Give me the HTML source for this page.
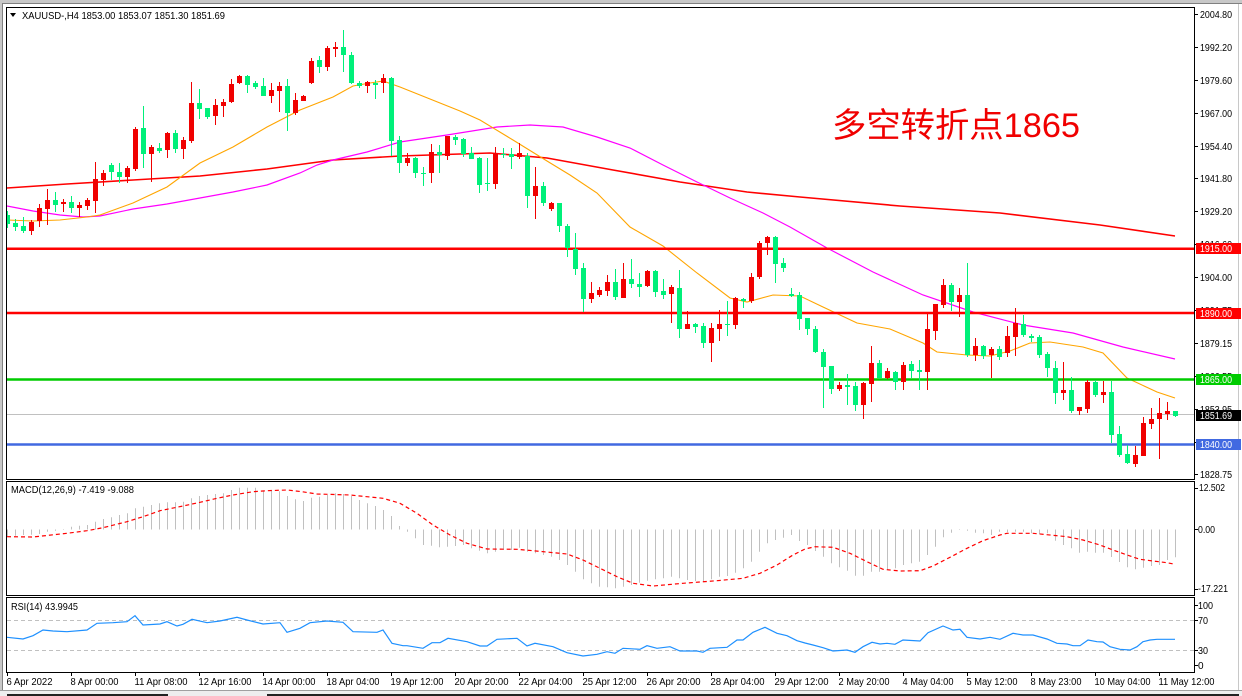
<!DOCTYPE html>
<html><head><meta charset="utf-8"><style>
html,body{margin:0;padding:0;background:#fff;}
svg{display:block;}
text{font-family:"Liberation Sans","Noto Sans CJK SC",sans-serif;}
</style></head><body>
<svg width="1242" height="696" viewBox="0 0 1242 696" xmlns="http://www.w3.org/2000/svg">
<defs><clipPath id="cm"><rect x="7" y="8" width="1187" height="471"/></clipPath>
<clipPath id="cmacd"><rect x="7" y="482" width="1187" height="113"/></clipPath>
<clipPath id="crsi"><rect x="7" y="598" width="1187" height="74"/></clipPath></defs>
<rect width="1242" height="696" fill="#fff"/>
<!-- window chrome -->
<rect x="0" y="0" width="1242" height="3" fill="#c8c8c8"/>
<line x1="2" y1="3.5" x2="1242" y2="3.5" stroke="#808080"/>
<rect x="0" y="0" width="2" height="696" fill="#c8c8c8"/>
<line x1="2.5" y1="3" x2="2.5" y2="692" stroke="#808080"/>
<line x1="1238.5" y1="4" x2="1238.5" y2="691" stroke="#c8c8c8"/>
<rect x="0" y="690" width="1242" height="6" fill="#eeeeee"/>
<line x1="0" y1="690.5" x2="1242" y2="690.5" stroke="#a0a0a0"/>
<rect x="7" y="694" width="161" height="2" fill="#222"/>
<rect x="267" y="694" width="972" height="2" fill="#222"/>

<!-- frames -->
<rect x="6.5" y="7.5" width="1188" height="472" fill="none" stroke="#000"/>
<rect x="6.5" y="481.5" width="1188" height="114" fill="none" stroke="#000"/>
<rect x="6.5" y="597.5" width="1188" height="75" fill="none" stroke="#000"/>

<!-- price axis ticks & labels -->
<g stroke="#000">
<path d="M1195 14.5h3M1195 47.5h3M1195 80.5h3M1195 113.5h3M1195 146.5h3M1195 178.5h3M1195 211.5h3M1195 244.5h3M1195 277.5h3M1195 310.5h3M1195 343.5h3M1195 376.5h3M1195 409.5h3M1195 442.5h3M1195 474.5h3"/>
<path d="M1195 488.5h3M1195 529.5h3M1195 589.5h3M1195 605.5h3M1195 620.5h3M1195 650.5h3M1195 665.5h3"/>
</g>
<g font-size="10" fill="#000">
<text x="1200" y="18" textLength="32" lengthAdjust="spacingAndGlyphs">2004.80</text>
<text x="1200" y="51" textLength="32" lengthAdjust="spacingAndGlyphs">1992.20</text>
<text x="1200" y="84" textLength="32" lengthAdjust="spacingAndGlyphs">1979.60</text>
<text x="1200" y="117" textLength="32" lengthAdjust="spacingAndGlyphs">1967.00</text>
<text x="1200" y="150" textLength="32" lengthAdjust="spacingAndGlyphs">1954.40</text>
<text x="1200" y="182" textLength="32" lengthAdjust="spacingAndGlyphs">1941.80</text>
<text x="1200" y="215" textLength="32" lengthAdjust="spacingAndGlyphs">1929.20</text>
<text x="1200" y="248" textLength="32" lengthAdjust="spacingAndGlyphs">1916.60</text>
<text x="1200" y="281" textLength="32" lengthAdjust="spacingAndGlyphs">1904.00</text>
<text x="1200" y="314" textLength="32" lengthAdjust="spacingAndGlyphs">1891.75</text>
<text x="1200" y="347" textLength="32" lengthAdjust="spacingAndGlyphs">1879.15</text>
<text x="1200" y="380" textLength="32" lengthAdjust="spacingAndGlyphs">1866.55</text>
<text x="1200" y="413" textLength="32" lengthAdjust="spacingAndGlyphs">1853.95</text>
<text x="1200" y="446" textLength="32" lengthAdjust="spacingAndGlyphs">1841.35</text>
<text x="1200" y="478" textLength="32" lengthAdjust="spacingAndGlyphs">1828.75</text>
<text x="1199" y="491" textLength="26" lengthAdjust="spacingAndGlyphs">12.502</text>
<text x="1198" y="533" textLength="17" lengthAdjust="spacingAndGlyphs">0.00</text>
<text x="1198" y="592" textLength="30" lengthAdjust="spacingAndGlyphs">-17.221</text>
<text x="1198" y="609" textLength="15" lengthAdjust="spacingAndGlyphs">100</text>
<text x="1198" y="624" textLength="10" lengthAdjust="spacingAndGlyphs">70</text>
<text x="1198" y="654" textLength="10" lengthAdjust="spacingAndGlyphs">30</text>
<text x="1198" y="669">0</text>
</g>

<!-- header / labels -->
<polygon points="10,13 16,13 13,17" fill="#000"/>
<text x="22" y="19" font-size="10.5" textLength="203" lengthAdjust="spacingAndGlyphs">XAUUSD-,H4  1853.00 1853.07 1851.30 1851.69</text>
<text x="11" y="493" font-size="10.5" textLength="123" lengthAdjust="spacingAndGlyphs">MACD(12,26,9) -7.419 -9.088</text>
<text x="11" y="610" font-size="10.5" textLength="67" lengthAdjust="spacingAndGlyphs">RSI(14) 43.9945</text>

<g clip-path="url(#cm)">
<!-- moving averages -->
<polyline fill="none" stroke="#ff0000" stroke-width="1.6" points="7,188 67,184 133,180 200,176 267,169 333,160 400,156 490,153 547,158 613,170 680,182 747,192 800,197 900,206 1000,213 1100,225 1175,236"/>
<polyline fill="none" stroke="#ff00ff" stroke-width="1.2" points="7,206 33,211 60,215 83,217 100,216 133,209 167,204 200,198 233,192 267,185 300,173 317,165 333,160 367,152 400,142 447,135 497,127 530,125 563,127 597,137 630,148 663,165 697,182 730,198 763,213 790,227 827,248 873,272 923,295 973,312 1023,325 1073,333 1123,347 1175,359"/>
<polyline fill="none" stroke="#ffa500" stroke-width="1.1" points="7,220 33,221 60,220 87,217 100,215 133,203 167,187 200,163 233,147 267,127 300,110 333,97 353,86 370,83 383,81 400,87 420,95 440,103 460,111 480,120 513,140 547,161 570,175 597,193 630,227 663,246 697,273 730,298 747,302 773,295 800,296 823,307 857,323 890,329 923,343 937,352 967,355 990,356 1010,351 1030,343 1050,342 1083,347 1103,353 1127,378 1157,392 1175,398"/>

<!-- horizontal levels -->
<line x1="7" y1="248.7" x2="1194" y2="248.7" stroke="#ff0000" stroke-width="2.5"/>
<line x1="7" y1="313" x2="1194" y2="313" stroke="#ff0000" stroke-width="2.5"/>
<line x1="7" y1="379.5" x2="1194" y2="379.5" stroke="#00cc00" stroke-width="2.5"/>
<line x1="7" y1="444.5" x2="1194" y2="444.5" stroke="#4169e1" stroke-width="2.5"/>
<line x1="7" y1="414.5" x2="1194" y2="414.5" stroke="#c0c0c0" stroke-width="1"/>

<!-- candle wicks -->
<path fill="none" stroke="#f00000" stroke-width="1" d="M31.5 220V235M39.5 204V227M47.5 189V225M63.5 199V212M79.5 202V217M87.5 198V210M95.5 162V213M103.5 170V186M127.5 166V183M135.5 127V171M151.5 145V182M167.5 132V158M183.5 137V159M191.5 82V143M215.5 99V125M223.5 99V117M231.5 79V103M239.5 75V84M271.5 83V103M279.5 82V112M295.5 93V115M303.5 95V101M311.5 58V84M327.5 46V71M335.5 42V57M367.5 81V93M383.5 74V93M407.5 153V166M431.5 144V183M447.5 136V160M495.5 147V189M519.5 143V159M535.5 167V219M551.5 202V211M591.5 282V303M599.5 287V297M607.5 275V296M623.5 263V298M647.5 270V287M671.5 285V323M687.5 311V329M711.5 323V362M719.5 310V341M735.5 297V329M751.5 273V303M759.5 241V279M767.5 236V255M839.5 382V391M863.5 382V419M871.5 346V402M887.5 368V379M903.5 362V390M927.5 314V390M935.5 304V340M943.5 279V308M959.5 288V317M975.5 338V361M991.5 347V378M1007.5 326V357M1015.5 308V356M1063.5 362V400M1079.5 407V415M1087.5 380V413M1103.5 381V403M1135.5 446V467M1143.5 417V456M1151.5 408V429M1159.5 398V459M1167.5 402V420"/>
<path fill="none" stroke="#00f07a" stroke-width="1" d="M7.5 211V228M15.5 219V231M23.5 217V233M55.5 192V212M71.5 196V213M111.5 163V180M119.5 163V183M143.5 106V168M159.5 143V153M175.5 130V153M199.5 89V119M207.5 108V119M247.5 75V93M255.5 81V89M263.5 78V96M287.5 79V131M319.5 56V73M343.5 30V72M351.5 52V84M359.5 81V88M375.5 80V99M391.5 77V156M399.5 136V173M415.5 157V178M423.5 167V186M439.5 145V173M455.5 135V145M463.5 138V157M471.5 147V159M479.5 157V193M487.5 158V191M503.5 148V158M511.5 148V169M527.5 153V208M543.5 182V206M559.5 203V232M567.5 224V257M575.5 233V275M583.5 263V312M615.5 269V300M631.5 259V288M639.5 273V297M655.5 270V297M663.5 279V299M679.5 270V338M695.5 323V333M703.5 323V348M727.5 301V336M743.5 298V308M775.5 236V283M783.5 258V272M791.5 288V297M799.5 292V330M807.5 318V335M815.5 326V353M823.5 349V408M831.5 366V394M847.5 374V405M855.5 382V411M879.5 360V379M895.5 371V390M911.5 361V378M919.5 360V390M951.5 283V311M967.5 263V357M983.5 345V359M999.5 346V360M1023.5 315V337M1031.5 334V342M1039.5 335V358M1047.5 352V377M1055.5 361V404M1071.5 377V413M1095.5 380V397M1111.5 381V443M1119.5 426V457M1127.5 445V464M1175.5 411V417"/>
<!-- candle bodies -->
<path fill="#f00000" d="M29 222h5v9h-5zM37 208h5v13h-5zM45 200h5v9h-5zM61 202h5v2h-5zM77 205h5v3h-5zM85 200h5v6h-5zM93 179h5v22h-5zM101 173h5v7h-5zM125 168h5v9h-5zM133 129h5v40h-5zM149 147h5v7h-5zM165 133h5v17h-5zM181 140h5v9h-5zM189 103h5v38h-5zM213 105h5v11h-5zM221 102h5v4h-5zM229 84h5v18h-5zM237 76h5v7h-5zM269 90h5v6h-5zM277 86h5v5h-5zM293 100h5v13h-5zM301 96h5v5h-5zM309 61h5v22h-5zM325 48h5v19h-5zM333 47h5v2h-5zM365 82h5v4h-5zM381 78h5v5h-5zM405 158h5v5h-5zM429 152h5v21h-5zM445 136h5v20h-5zM493 154h5v30h-5zM517 153h5v4h-5zM533 186h5v10h-5zM549 203h5v6h-5zM589 293h5v6h-5zM597 290h5v5h-5zM605 282h5v9h-5zM621 279h5v19h-5zM645 271h5v15h-5zM669 287h5v7h-5zM685 324h5v5h-5zM709 328h5v15h-5zM717 324h5v5h-5zM733 298h5v27h-5zM749 277h5v24h-5zM757 243h5v34h-5zM765 237h5v6h-5zM837 385h5v4h-5zM861 383h5v22h-5zM869 363h5v21h-5zM885 371h5v7h-5zM901 365h5v17h-5zM925 329h5v43h-5zM933 304h5v27h-5zM941 285h5v20h-5zM957 295h5v7h-5zM973 346h5v9h-5zM989 349h5v6h-5zM1005 336h5v17h-5zM1013 323h5v14h-5zM1061 390h5v3h-5zM1077 407h5v4h-5zM1085 382h5v27h-5zM1101 392h5v3h-5zM1133 455h5v9h-5zM1141 423h5v33h-5zM1149 419h5v5h-5zM1157 413h5v6h-5zM1165 411h5v3h-5z"/>
<path fill="#00f07a" d="M5 215h5v9h-5zM13 223h5v4h-5zM21 226h5v5h-5zM53 200h5v5h-5zM69 202h5v6h-5zM109 165h5v7h-5zM117 172h5v5h-5zM141 128h5v26h-5zM157 148h5v3h-5zM173 133h5v16h-5zM197 103h5v6h-5zM205 108h5v9h-5zM245 76h5v9h-5zM253 83h5v4h-5zM261 86h5v10h-5zM285 86h5v27h-5zM317 60h5v7h-5zM341 47h5v8h-5zM349 55h5v28h-5zM357 83h5v3h-5zM373 83h5v2h-5zM389 78h5v63h-5zM397 140h5v23h-5zM413 158h5v15h-5zM421 173h5v1h-5zM437 152h5v3h-5zM453 137h5v3h-5zM461 139h5v15h-5zM469 153h5v6h-5zM477 158h5v27h-5zM485 183h5v1h-5zM501 154h5v1h-5zM509 154h5v3h-5zM525 156h5v40h-5zM541 186h5v17h-5zM557 203h5v23h-5zM565 226h5v22h-5zM573 249h5v20h-5zM581 268h5v31h-5zM613 282h5v15h-5zM629 279h5v5h-5zM637 284h5v3h-5zM653 271h5v21h-5zM661 291h5v4h-5zM677 288h5v41h-5zM693 324h5v3h-5zM701 326h5v17h-5zM725 324h5v1h-5zM741 299h5v2h-5zM773 237h5v27h-5zM781 263h5v5h-5zM789 294h5v2h-5zM797 295h5v24h-5zM805 318h5v11h-5zM813 329h5v23h-5zM821 352h5v15h-5zM829 366h5v23h-5zM845 385h5v2h-5zM853 386h5v19h-5zM877 363h5v15h-5zM893 372h5v10h-5zM909 364h5v7h-5zM917 370h5v2h-5zM949 285h5v17h-5zM965 295h5v60h-5zM981 346h5v10h-5zM997 349h5v8h-5zM1021 324h5v11h-5zM1029 336h5v2h-5zM1037 337h5v18h-5zM1045 354h5v14h-5zM1053 368h5v25h-5zM1069 390h5v21h-5zM1093 382h5v13h-5zM1109 392h5v43h-5zM1117 434h5v21h-5zM1125 454h5v9h-5zM1173 411h5v5h-5z"/>

<text x="832" y="137" font-size="34" fill="#f00000" textLength="248" lengthAdjust="spacingAndGlyphs">多空转折点1865</text>
</g>

<!-- level labels -->
<rect x="1196" y="243" width="45" height="11" fill="#ff0000"/>
<text x="1200" y="252" font-size="10" fill="#fff" textLength="32" lengthAdjust="spacingAndGlyphs">1915.00</text>
<rect x="1196" y="308" width="45" height="11" fill="#ff0000"/>
<text x="1200" y="317" font-size="10" fill="#fff" textLength="32" lengthAdjust="spacingAndGlyphs">1890.00</text>
<rect x="1196" y="374" width="45" height="11" fill="#00cc00"/>
<text x="1200" y="383" font-size="10" fill="#fff" textLength="32" lengthAdjust="spacingAndGlyphs">1865.00</text>
<rect x="1196" y="410" width="45" height="11" fill="#000"/>
<text x="1200" y="419" font-size="10" fill="#fff" textLength="32" lengthAdjust="spacingAndGlyphs">1851.69</text>
<rect x="1196" y="439" width="45" height="11" fill="#4169e1"/>
<text x="1200" y="448" font-size="10" fill="#fff" textLength="32" lengthAdjust="spacingAndGlyphs">1840.00</text>

<!-- MACD -->
<g clip-path="url(#cmacd)">
<path fill="none" stroke="#c0c0c0" stroke-width="1" d="M7.5 529.5V536M15.5 529.5V535.7M23.5 529.5V535M31.5 529.5V534.7M39.5 529.5V534M47.5 529.5V531.7M55.5 529.5V530.7M63.5 529.5V530M71.5 529.5V526.7M79.5 529.5V525.7M87.5 529.5V525M95.5 529.5V521.7M103.5 529.5V519M111.5 529.5V517.3M119.5 529.5V515M127.5 529.5V513.3M135.5 529.5V508.3M143.5 529.5V506.7M151.5 529.5V505M159.5 529.5V503.3M167.5 529.5V502.3M175.5 529.5V502.3M183.5 529.5V501.7M191.5 529.5V498.3M199.5 529.5V496M207.5 529.5V495M215.5 529.5V494M223.5 529.5V493.3M231.5 529.5V490M239.5 529.5V487.7M247.5 529.5V487.7M255.5 529.5V487.7M263.5 529.5V490.7M271.5 529.5V490M279.5 529.5V491.3M287.5 529.5V496M295.5 529.5V499.3M303.5 529.5V501M311.5 529.5V497.7M319.5 529.5V496.7M327.5 529.5V495M335.5 529.5V493.3M343.5 529.5V494M351.5 529.5V496M359.5 529.5V500M367.5 529.5V503.3M375.5 529.5V506M383.5 529.5V510M391.5 529.5V516M399.5 529.5V526M407.5 529.5V531.7M415.5 529.5V538.3M423.5 529.5V545M431.5 529.5V545.7M439.5 529.5V547.3M447.5 529.5V546.7M455.5 529.5V546M463.5 529.5V545M471.5 529.5V548.3M479.5 529.5V550.7M487.5 529.5V553.3M495.5 529.5V551.7M503.5 529.5V550M511.5 529.5V550M519.5 529.5V547.7M527.5 529.5V551.7M535.5 529.5V553.3M543.5 529.5V555M551.5 529.5V556.7M559.5 529.5V560M567.5 529.5V565M575.5 529.5V571.7M583.5 529.5V579.3M591.5 529.5V583.3M599.5 529.5V586.7M607.5 529.5V587.3M615.5 529.5V588.3M623.5 529.5V586.7M631.5 529.5V585M639.5 529.5V582.7M647.5 529.5V580.7M655.5 529.5V579.3M663.5 529.5V578.3M671.5 529.5V576.7M679.5 529.5V578.3M687.5 529.5V580M695.5 529.5V581M703.5 529.5V581.7M711.5 529.5V579.3M719.5 529.5V576.7M727.5 529.5V576M735.5 529.5V572.7M743.5 529.5V568.3M751.5 529.5V561.7M759.5 529.5V551.7M767.5 529.5V543.3M775.5 529.5V540M783.5 529.5V537.7M791.5 529.5V535M799.5 529.5V541M807.5 529.5V545M815.5 529.5V551M823.5 529.5V556.7M831.5 529.5V563.3M839.5 529.5V567.3M847.5 529.5V570.7M855.5 529.5V575.7M863.5 529.5V575.7M871.5 529.5V571.7M879.5 529.5V571.7M887.5 529.5V570M895.5 529.5V568.3M903.5 529.5V565M911.5 529.5V563.3M919.5 529.5V561.7M927.5 529.5V555M935.5 529.5V546.7M943.5 529.5V537.3M951.5 529.5V532.7M959.5 529.5V530M967.5 529.5V530.7M975.5 529.5V532.7M983.5 529.5V533.3M991.5 529.5V535M999.5 529.5V531.7M1007.5 529.5V532.3M1015.5 529.5V531.7M1023.5 529.5V531.7M1031.5 529.5V533.3M1039.5 529.5V534.3M1047.5 529.5V533.3M1055.5 529.5V540.7M1063.5 529.5V545M1071.5 529.5V548.3M1079.5 529.5V552.7M1087.5 529.5V551.7M1095.5 529.5V552.7M1103.5 529.5V552.7M1111.5 529.5V557M1119.5 529.5V562M1127.5 529.5V567.3M1135.5 529.5V569.3M1143.5 529.5V567.7M1151.5 529.5V566M1159.5 529.5V565M1167.5 529.5V560M1175.5 529.5V557.3"/>
<polyline fill="none" stroke="#ff0000" stroke-width="1.2" stroke-dasharray="4,3" points="7,536.7 33,537 67,533.3 87,530.7 103,527.7 127,521.7 143,516.7 160,510.7 183,506 200,502.3 217,498.3 233,495 253,491.7 267,490.7 287,490 302,491.7 317,494 350,495 383,498.3 400,503.3 417,513.3 433,525 450,535 467,543.3 487,549 517,549.3 533,550.7 567,554 583,560 600,568.3 617,576.7 633,583.3 653,586 683,583.3 717,580.7 743,578.3 760,573.3 777,565 793,555 805,549 815,546.7 833,547.3 850,553.3 867,561.7 883,569.3 900,571 920,570.7 933,566 950,557.3 967,548.3 983,540.7 1000,535 1007,533.3 1033,533.3 1067,536.7 1083,540 1100,545 1113,550 1127,555 1140,559.3 1153,561 1167,562.7 1175,564.3"/>
</g>

<!-- RSI -->
<g clip-path="url(#crsi)">
<line x1="7" y1="620.5" x2="1194" y2="620.5" stroke="#c0c0c0" stroke-dasharray="4,3"/>
<line x1="7" y1="650.5" x2="1194" y2="650.5" stroke="#c0c0c0" stroke-dasharray="4,3"/>
<polyline fill="none" stroke="#1e90ff" stroke-width="1.2" points="7,637.3 23,639 33,635.7 43,630 53,631 67,631.7 87,630 97,623.3 113,622.7 127,621.7 135,615.7 143,625 160,624 167,621.7 177,626 183,624.3 192,619.3 207,622.7 220,621 237,617.3 247,620 263,624 280,622.7 287,632.3 300,628.3 310,622.7 327,621 343,622.3 353,631.7 377,632.3 383,630 392,643.3 403,645.7 407,645.7 423,648.3 432,642.7 440,642.7 448,638.3 467,641.7 480,646 487,646 497,639.3 517,638.3 527,646 535,643.3 553,646.7 567,652.7 583,656 597,654.3 607,651.7 615,653.3 623,648.3 640,649.3 647,645.7 657,648.3 670,646.7 680,651 697,651 703,652.3 710,648.3 727,647.3 737,640 743,640 753,632.3 765,627.3 777,633.3 787,635.7 797,640.7 805,643 813,645 823,647.7 833,651 847,650 855,652.3 863,646.7 872,642.3 880,644 887,643.3 895,644.3 903,640 920,641 928,632.7 943,626 953,630 960,629.3 967,637.3 980,639 990,637.3 1000,639.3 1013,633.3 1023,635 1033,635 1047,639 1057,643.3 1067,644 1073,645.7 1080,645.7 1088,640 1097,641.7 1103,642 1110,646.7 1120,649.3 1130,650 1137,646.7 1143,641.7 1150,640 1157,639.3 1175,639.3"/>
</g>

<!-- x axis -->
<path stroke="#000" d="M7.5 673V676M71.5 673V676M135.5 673V676M199.5 673V676M263.5 673V676M327.5 673V676M391.5 673V676M455.5 673V676M519.5 673V676M583.5 673V676M647.5 673V676M711.5 673V676M775.5 673V676M839.5 673V676M903.5 673V676M967.5 673V676M1031.5 673V676M1095.5 673V676M1159.5 673V676"/>
<g font-size="10.5" fill="#000">
<text x="6.5" y="685" textLength="46" lengthAdjust="spacingAndGlyphs">6 Apr 2022</text>
<text x="70.5" y="685" textLength="48" lengthAdjust="spacingAndGlyphs">8 Apr 00:00</text>
<text x="134.5" y="685" textLength="53" lengthAdjust="spacingAndGlyphs">11 Apr 08:00</text>
<text x="198.5" y="685" textLength="53" lengthAdjust="spacingAndGlyphs">12 Apr 16:00</text>
<text x="262.5" y="685" textLength="53" lengthAdjust="spacingAndGlyphs">14 Apr 00:00</text>
<text x="326.5" y="685" textLength="53" lengthAdjust="spacingAndGlyphs">18 Apr 04:00</text>
<text x="390.5" y="685" textLength="53" lengthAdjust="spacingAndGlyphs">19 Apr 12:00</text>
<text x="454.5" y="685" textLength="54" lengthAdjust="spacingAndGlyphs">20 Apr 20:00</text>
<text x="518.5" y="685" textLength="54" lengthAdjust="spacingAndGlyphs">22 Apr 04:00</text>
<text x="582.5" y="685" textLength="54" lengthAdjust="spacingAndGlyphs">25 Apr 12:00</text>
<text x="646.5" y="685" textLength="54" lengthAdjust="spacingAndGlyphs">26 Apr 20:00</text>
<text x="710.5" y="685" textLength="54" lengthAdjust="spacingAndGlyphs">28 Apr 04:00</text>
<text x="774.5" y="685" textLength="54" lengthAdjust="spacingAndGlyphs">29 Apr 12:00</text>
<text x="838.5" y="685" textLength="51" lengthAdjust="spacingAndGlyphs">2 May 20:00</text>
<text x="902.5" y="685" textLength="51" lengthAdjust="spacingAndGlyphs">4 May 04:00</text>
<text x="966.5" y="685" textLength="51" lengthAdjust="spacingAndGlyphs">5 May 12:00</text>
<text x="1030.5" y="685" textLength="51" lengthAdjust="spacingAndGlyphs">8 May 23:00</text>
<text x="1094.5" y="685" textLength="56" lengthAdjust="spacingAndGlyphs">10 May 04:00</text>
<text x="1158.5" y="685" textLength="56" lengthAdjust="spacingAndGlyphs">11 May 12:00</text>
</g>
</svg>
</body></html>
